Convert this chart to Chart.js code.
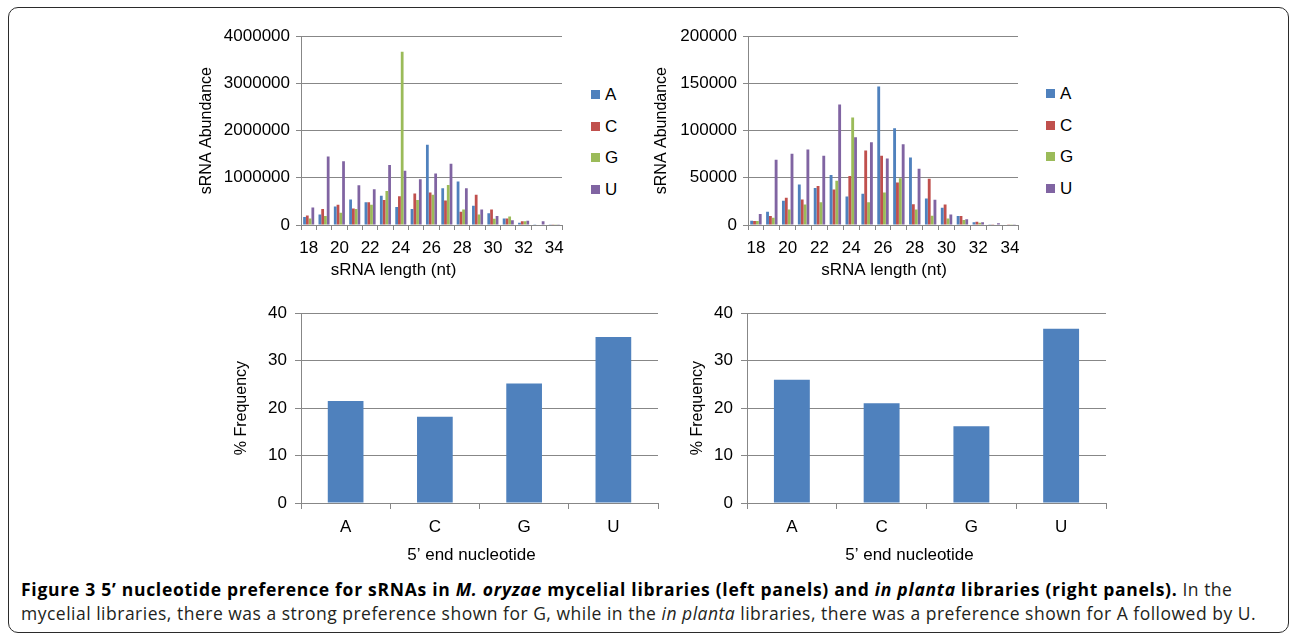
<!DOCTYPE html>
<html>
<head>
<meta charset="utf-8">
<script src="https://cdn.jsdelivr.net/npm/chart.js@4/dist/chart.umd.min.js"></script>
<style>
  body { margin: 0; background: #fff; width: 1290px; height: 634px; overflow: hidden; position: relative; font-family: "Liberation Sans", Arial, sans-serif; }
  .frame { position: absolute; left: 8px; top: 7px; width: 1281px; height: 626px; border: 1.5px solid #2b2b2b; border-radius: 10px; box-sizing: border-box; }
  canvas { position: absolute; }
  .legend { position: absolute; font-size: 17px; color: #000; }
  .legend div { position: absolute; left: 0; white-space: nowrap; line-height: 17px; height: 17px; }
  .legend span { display: inline-block; width: 9px; height: 9px; margin-right: 5px; vertical-align: 1px; }
  .caption { position: absolute; left: 21px; top: 577px; font-family: "Open Sans", sans-serif; font-size: 17.5px; line-height: 24px; color: #231f20; white-space: nowrap; letter-spacing: 0.5px; }
  .caption b { color: #000; letter-spacing: 0.72px; }
</style>
</head>
<body>
<div class="frame"></div>
<canvas id="topLeft" width="390" height="270" style="left:190px;top:20px"></canvas>
<canvas id="topRight" width="395" height="270" style="left:640px;top:20px"></canvas>
<canvas id="botLeft" width="480" height="280" style="left:190px;top:295px"></canvas>
<canvas id="botRight" width="480" height="280" style="left:640px;top:295px"></canvas>
<div class="legend" id="legendLeft" style="left:591px;top:86px"></div>
<div class="legend" id="legendRight" style="left:1046px;top:85px"></div>
<div class="caption">
<b>Figure 3 5’ nucleotide preference for sRNAs in <i>M. oryzae</i> mycelial libraries (left panels) and <i>in planta</i> libraries (right panels).</b> In the<br>
mycelial libraries, there was a strong preference shown for G, while in the <i>in planta</i> libraries, there was a preference shown for A followed by U.
</div>
<script>
// sRNA lengths (nt)
const lengths = [18, 19, 20, 21, 22, 23, 24, 25, 26, 27, 28, 29, 30, 31, 32, 33, 34];
const nucleotides = ["A", "C", "G", "U"];
const colors = ["#4F81BD", "#C0504D", "#9BBB59", "#8064A2"];

// mycelial libraries, sRNA abundance by 5' nucleotide
const mycA = [170000, 220000, 390000, 540000, 480000, 620000, 380000, 340000, 1700000, 780000, 920000, 410000, 250000, 140000, 50000, 15000, 5000];
const mycC = [200000, 340000, 430000, 350000, 480000, 530000, 610000, 670000, 690000, 520000, 280000, 640000, 330000, 140000, 80000, 10000, 4000];
const mycG = [140000, 190000, 260000, 340000, 430000, 720000, 3670000, 530000, 640000, 850000, 330000, 220000, 130000, 180000, 80000, 10000, 4000];
const mycU = [370000, 1450000, 1350000, 840000, 760000, 1270000, 1150000, 970000, 1090000, 1300000, 780000, 330000, 190000, 100000, 90000, 80000, 6000];

// in planta libraries
const plaA = [4600, 14000, 25600, 42800, 39300, 53000, 30200, 33000, 146700, 102500, 71600, 28000, 18200, 9500, 2800, 700, 400];
const plaC = [4200, 9500, 28800, 27000, 41400, 37500, 51900, 79000, 73300, 44900, 22100, 49100, 21800, 9500, 3500, 700, 300];
const plaG = [4200, 7700, 16500, 21800, 24200, 47000, 114000, 24200, 34400, 49500, 16500, 9800, 7000, 5300, 2500, 500, 200];
const plaU = [11600, 69000, 75400, 80000, 73300, 127700, 93000, 87700, 70500, 85600, 59600, 26700, 11200, 6000, 2800, 1800, 300];

// % frequency of 5' end nucleotide
const mycFreq = [21.5, 18.2, 25.2, 35.0];
const plaFreq = [26.0, 21.0, 16.2, 36.7];

const gridColor = "#878787";
const fontFamily = "'Liberation Sans', Arial, sans-serif";
const tickFont = { family: fontFamily, size: 17 };
const yTitleFont = { family: fontFamily, size: 16 };

// x axis title, drawn a little off-centre like the original
const xTitlePlugin = {
    id: "xTitle",
    afterDraw(chart, args, opts) {
        const ctx = chart.ctx;
        const a = chart.chartArea;
        ctx.save();
        ctx.font = "17px " + fontFamily;
        ctx.fillStyle = "#000";
        ctx.textAlign = "center";
        ctx.textBaseline = "middle";
        ctx.fillText(opts.text, (a.left + a.right) / 2 + opts.dx, chart.height - 20);
        ctx.restore();
    }
};

function groupedChart(id, series, yMax, yStep, box) {
    return new Chart(document.getElementById(id), {
        type: "bar",
        data: {
            labels: lengths,
            datasets: series.map((vals, i) => ({
                label: nucleotides[i],
                data: vals,
                backgroundColor: colors[i],
                borderWidth: 0,
                categoryPercentage: 0.72,
                barPercentage: 1.0
            }))
        },
        options: {
            responsive: false,
            animation: false,
            layout: { padding: { top: 15, right: box.right, left: 0, bottom: 0 } },
            plugins: {
                legend: { display: false },
                tooltip: { enabled: false },
                xTitle: { text: "sRNA length (nt)", dx: box.dx }
            },
            scales: {
                x: {
                    afterFit: (s) => { s.height = 65; },
                    grid: { drawOnChartArea: false, drawTicks: true, tickLength: 5, color: gridColor },
                    border: { color: gridColor },
                    ticks: {
                        autoSkip: false, maxRotation: 0, color: "#000", font: tickFont, padding: 8,
                        callback: (v, i) => (i % 2 === 0 ? lengths[i] : "")
                    }
                },
                y: {
                    min: 0, max: yMax,
                    afterFit: (s) => { s.width = box.yWidth; },
                    grid: { color: gridColor, tickLength: 5 },
                    border: { color: gridColor },
                    ticks: { stepSize: yStep, color: "#000", font: tickFont, padding: 6, callback: (v) => String(v) },
                    title: { display: true, text: "sRNA Abundance", color: "#000", font: yTitleFont, padding: { top: box.titlePad, bottom: 0 } }
                }
            }
        },
        plugins: [xTitlePlugin]
    });
}

function freqChart(id, vals, box) {
    return new Chart(document.getElementById(id), {
        type: "bar",
        data: {
            labels: nucleotides,
            datasets: [{ label: "% Frequency", data: vals, backgroundColor: colors[0], borderWidth: 0, categoryPercentage: 1.0, barPercentage: 0.4 }]
        },
        options: {
            responsive: false,
            animation: false,
            layout: { padding: { top: 18, right: box.right, left: 0, bottom: 0 } },
            plugins: {
                legend: { display: false },
                tooltip: { enabled: false },
                xTitle: { text: "5’ end nucleotide", dx: box.dx }
            },
            scales: {
                x: {
                    afterFit: (s) => { s.height = 72; },
                    grid: { drawOnChartArea: false, drawTicks: true, tickLength: 6, color: gridColor },
                    border: { color: gridColor },
                    ticks: { color: "#000", font: tickFont, padding: 8 }
                },
                y: {
                    min: 0, max: 40,
                    afterFit: (s) => { s.width = box.yWidth; },
                    grid: { color: gridColor, tickLength: 6 },
                    border: { color: gridColor },
                    ticks: { stepSize: 10, color: "#000", font: tickFont, padding: 8 },
                    title: { display: true, text: "% Frequency", color: "#000", font: yTitleFont, padding: { top: box.titlePad, bottom: 0 } }
                }
            }
        },
        plugins: [xTitlePlugin]
    });
}

function buildLegend(id) {
    const el = document.getElementById(id);
    nucleotides.forEach((n, i) => {
        const row = document.createElement("div");
        row.style.top = (i * 31.5) + "px";
        const sw = document.createElement("span");
        sw.style.background = colors[i];
        row.appendChild(sw);
        row.appendChild(document.createTextNode(n));
        el.appendChild(row);
    });
}

groupedChart("topLeft", [mycA, mycC, mycG, mycU], 4000000, 1000000, { yWidth: 111, right: 18, titlePad: 7.4, dx: -38 });
groupedChart("topRight", [plaA, plaC, plaG, plaU], 200000, 50000, { yWidth: 108, right: 17, titlePad: 12.4, dx: 1 });
freqChart("botLeft", mycFreq, { yWidth: 111, right: 12, titlePad: 42, dx: -8 });
freqChart("botRight", plaFreq, { yWidth: 107, right: 14, titlePad: 48.4, dx: -17 });
buildLegend("legendLeft");
buildLegend("legendRight");
</script>
</body>
</html>
